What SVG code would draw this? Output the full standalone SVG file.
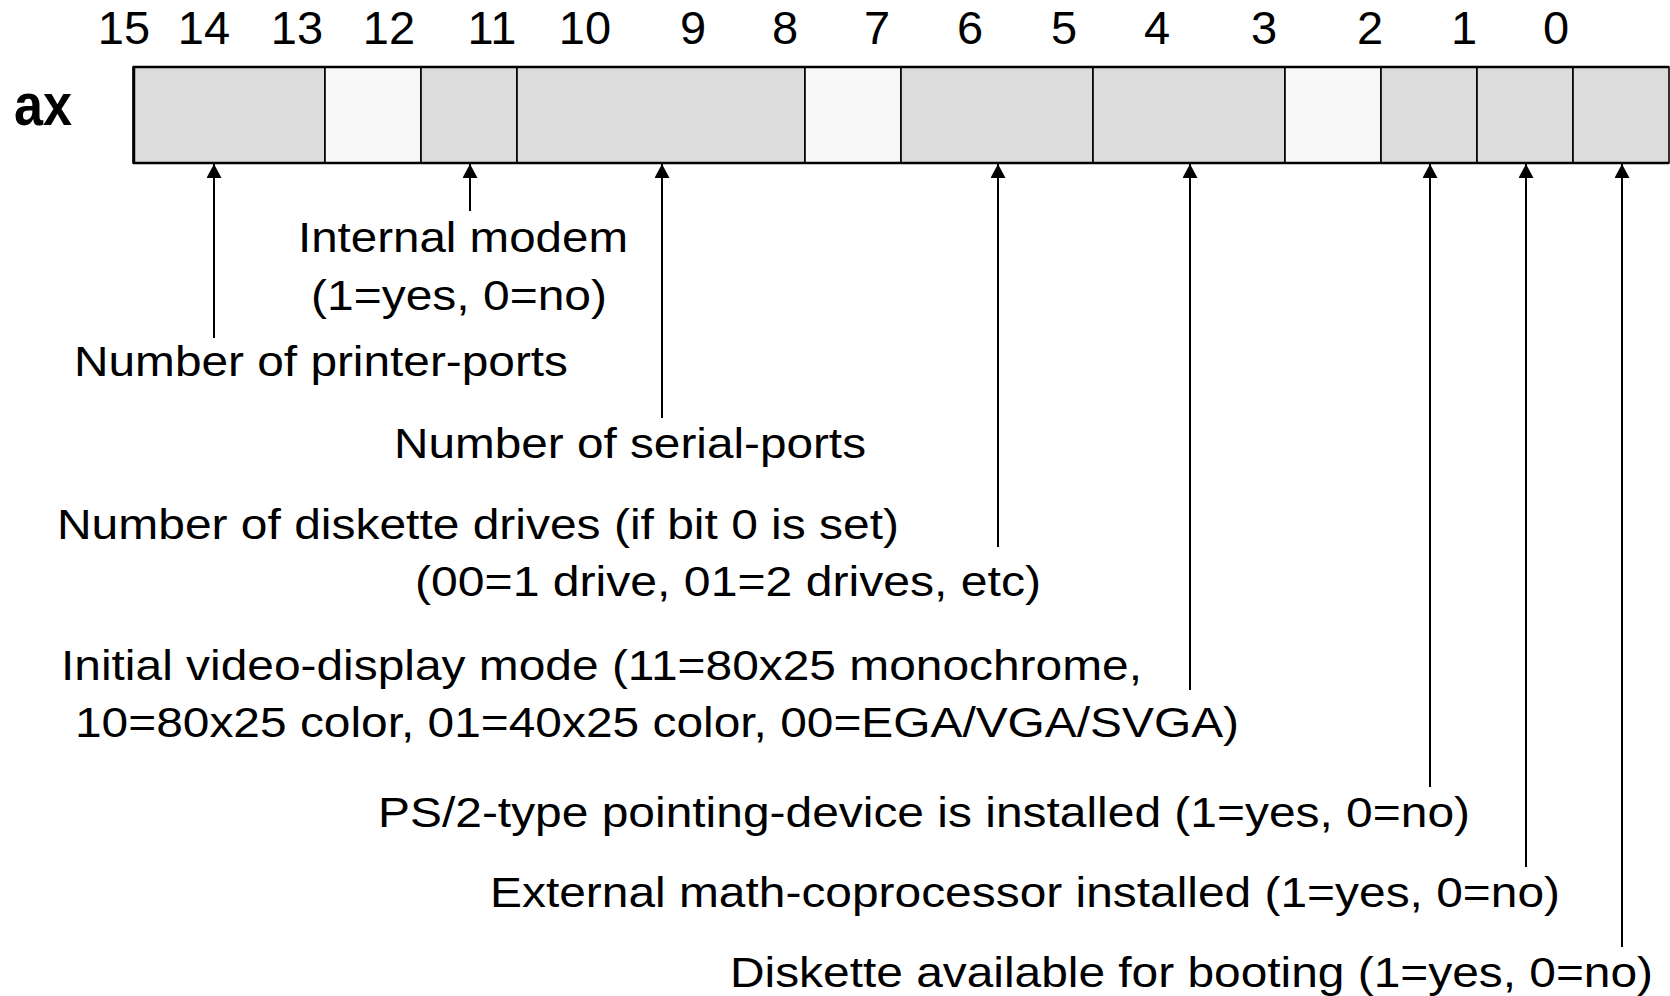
<svg xmlns="http://www.w3.org/2000/svg" width="1670" height="996" viewBox="0 0 1670 996">
<style>
.t{font-family:"Liberation Sans",Arial,sans-serif;font-size:43px;fill:#000}
.n{font-family:"Liberation Sans",Arial,sans-serif;font-size:47px;fill:#000;text-anchor:middle}
.ax{font-family:"Liberation Sans",Arial,sans-serif;font-size:60px;font-weight:bold;fill:#000}
.used{fill:#dcdcdc;stroke:#000;stroke-width:1.6}
.free{fill:#f8f8f8;stroke:#000;stroke-width:1.6}
.c{stroke:#000;stroke-width:2;fill:none;marker-end:url(#ah)}
</style>
<defs>
<marker id="ah" viewBox="0 0 14 15" refX="14" refY="7.5" markerWidth="14" markerHeight="15" markerUnits="userSpaceOnUse" orient="auto">
<path d="M0,0 L14,7.5 L0,15 z" fill="#000"/>
</marker>
</defs>
<rect width="1670" height="996" fill="#fff"/>
<g id="bit-numbers">
<text class="n" x="124" y="44">15</text>
<text class="n" x="204" y="44">14</text>
<text class="n" x="297" y="44">13</text>
<text class="n" x="389" y="44">12</text>
<text class="n" x="492" y="44">11</text>
<text class="n" x="585" y="44">10</text>
<text class="n" x="693" y="44">9</text>
<text class="n" x="785" y="44">8</text>
<text class="n" x="877" y="44">7</text>
<text class="n" x="970" y="44">6</text>
<text class="n" x="1064" y="44">5</text>
<text class="n" x="1157" y="44">4</text>
<text class="n" x="1264" y="44">3</text>
<text class="n" x="1370" y="44">2</text>
<text class="n" x="1464" y="44">1</text>
<text class="n" x="1556" y="44">0</text>
</g>
<g id="register-label"><text class="ax" x="14" y="125" textLength="58" lengthAdjust="spacingAndGlyphs">ax</text></g>
<g id="register">
<rect class="used" x="133" y="67" width="192" height="96"/>
<rect class="free" x="325" y="67" width="96" height="96"/>
<rect class="used" x="421" y="67" width="96" height="96"/>
<rect class="used" x="517" y="67" width="288" height="96"/>
<rect class="free" x="805" y="67" width="96" height="96"/>
<rect class="used" x="901" y="67" width="192" height="96"/>
<rect class="used" x="1093" y="67" width="192" height="96"/>
<rect class="free" x="1285" y="67" width="96" height="96"/>
<rect class="used" x="1381" y="67" width="96" height="96"/>
<rect class="used" x="1477" y="67" width="96" height="96"/>
<rect class="used" x="1573" y="67" width="96" height="96"/>
<line x1="133" y1="67" x2="1669" y2="67" stroke="#000" stroke-width="2.5"/>
<line x1="133" y1="163" x2="1669" y2="163" stroke="#000" stroke-width="2.5"/>
<line x1="134" y1="67" x2="134" y2="163" stroke="#000" stroke-width="2.5"/>
</g>
<g id="connectors">
<line class="c" x1="214" y1="338" x2="214" y2="164"/>
<line class="c" x1="470" y1="211" x2="470" y2="164"/>
<line class="c" x1="662" y1="418" x2="662" y2="164"/>
<line class="c" x1="998" y1="547" x2="998" y2="164"/>
<line class="c" x1="1190" y1="690" x2="1190" y2="164"/>
<line class="c" x1="1430" y1="787" x2="1430" y2="164"/>
<line class="c" x1="1526" y1="867" x2="1526" y2="164"/>
<line class="c" x1="1622" y1="947" x2="1622" y2="164"/>
</g>
<g id="internal-modem">
<text class="t" x="298" y="252" textLength="330" lengthAdjust="spacingAndGlyphs">Internal modem</text>
<text class="t" x="311" y="310" textLength="296" lengthAdjust="spacingAndGlyphs">(1=yes, 0=no)</text>
</g>
<g id="printer-ports"><text class="t" x="74" y="376" textLength="494" lengthAdjust="spacingAndGlyphs">Number of printer-ports</text></g>
<g id="serial-ports"><text class="t" x="394" y="458" textLength="472" lengthAdjust="spacingAndGlyphs">Number of serial-ports</text></g>
<g id="diskette-drives">
<text class="t" x="57" y="539" textLength="842" lengthAdjust="spacingAndGlyphs">Number of diskette drives (if bit 0 is set)</text>
<text class="t" x="415" y="596" textLength="626" lengthAdjust="spacingAndGlyphs">(00=1 drive, 01=2 drives, etc)</text>
</g>
<g id="video-mode">
<text class="t" x="61" y="680" textLength="1081" lengthAdjust="spacingAndGlyphs">Initial video-display mode (11=80x25 monochrome,</text>
<text class="t" x="75" y="737" textLength="1164" lengthAdjust="spacingAndGlyphs">10=80x25 color, 01=40x25 color, 00=EGA/VGA/SVGA)</text>
</g>
<g id="ps2-device"><text class="t" x="378" y="827" textLength="1092" lengthAdjust="spacingAndGlyphs">PS/2-type pointing-device is installed (1=yes, 0=no)</text></g>
<g id="math-coprocessor"><text class="t" x="490" y="907" textLength="1070" lengthAdjust="spacingAndGlyphs">External math-coprocessor installed (1=yes, 0=no)</text></g>
<g id="diskette-boot"><text class="t" x="730" y="987" textLength="923" lengthAdjust="spacingAndGlyphs">Diskette available for booting (1=yes, 0=no)</text></g>
</svg>
